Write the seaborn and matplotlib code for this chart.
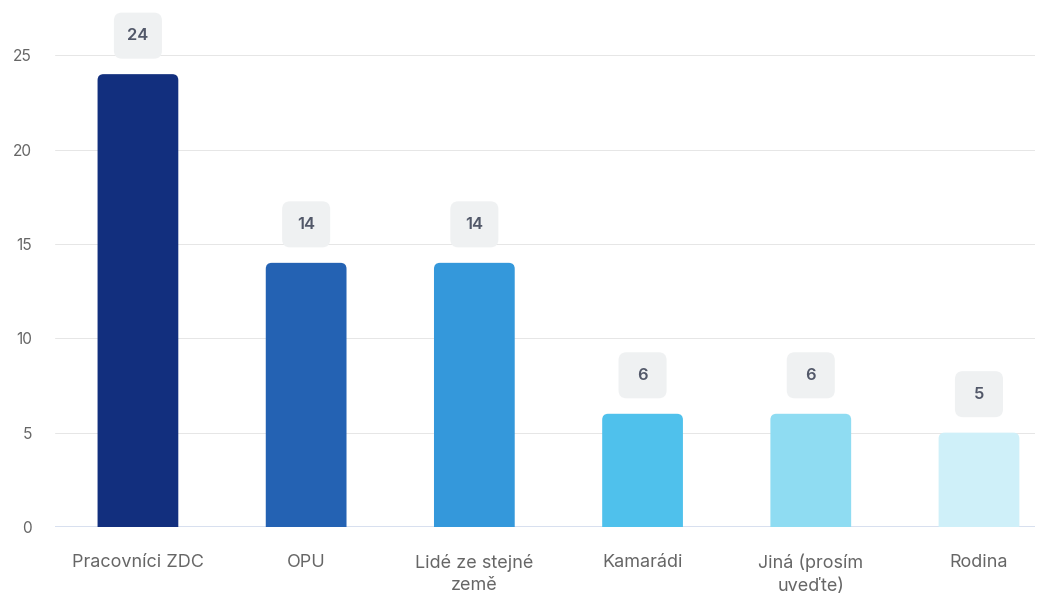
import matplotlib
matplotlib.use("Agg")
import matplotlib.pyplot as plt
import seaborn as sns
import pandas as pd
from matplotlib.patches import FancyBboxPatch
from matplotlib.offsetbox import DrawingArea, AnnotationBbox

categories = ["Pracovníci ZDC", "OPU", "Lidé ze stejné\nzemě", "Kamarádi", "Jiná (prosím\nuveďte)", "Rodina"]
values = [24, 14, 14, 6, 6, 5]
colors = ["#122f7e", "#2462b3", "#3498db", "#4fc1ec", "#8fdcf2", "#cff0f9"]
yticks = [0, 5, 10, 15, 20, 25]

sns.set_theme(style="white")
plt.rcParams["font.family"] = ["Inter", "DejaVu Sans"]

DPI = 72
fig = plt.figure(figsize=(1051 / DPI, 596 / DPI), dpi=DPI)
ax = fig.add_axes([55 / 1051, 1 - 527 / 596, (1035 - 55) / 1051, (527 - 10) / 596])

df = pd.DataFrame({"cat": categories, "val": values})
sns.barplot(data=df, x="cat", y="val", hue="cat", palette=colors, legend=False,
            width=0.48, ax=ax, saturation=1)

ax.set_xlim(-0.493, 5.333)
ax.set_ylim(0, 27.4)
ax.set_yticks(yticks)
ax.grid(axis="y", color="#e6e6e6", linewidth=1)
ax.set_axisbelow(True)
for s in ax.spines.values():
    s.set_visible(False)
ax.axhline(0, color="#ccd6eb", linewidth=1.5, zorder=1)
ax.set_xlabel("")
ax.set_ylabel("")
ax.tick_params(axis="x", colors="#666666", labelsize=18, length=0, pad=27)
ax.tick_params(axis="y", colors="#666666", labelsize=15.5, length=0, pad=23)
for t in ax.get_xticklabels():
    t.set_linespacing(1.4)

# rounded top corners
px_x = 980 / (5.333 + 0.493)
px_y = 517 / 27.4
r = 6
for patch in list(ax.patches):
    x, y = patch.get_x(), patch.get_y()
    w, h = patch.get_width(), patch.get_height()
    fc = patch.get_facecolor()
    patch.remove()
    rs = r / px_x
    fb = FancyBboxPatch((x, y - 1), w, h + 1,
                        boxstyle=f"round,pad=0,rounding_size={rs}",
                        mutation_aspect=(r / px_y) / rs,
                        facecolor=fc, edgecolor="none", zorder=2)
    ax.add_patch(fb)

# data labels
for i, v in enumerate(values):
    da = DrawingArea(48, 46, 0, 0)
    da.add_artist(FancyBboxPatch((0, 0), 48, 46, boxstyle="round,pad=0,rounding_size=8",
                                 facecolor="#eff1f2", edgecolor="none"))
    ab = AnnotationBbox(da, (i, v), xybox=(0, 38.5), boxcoords="offset points",
                        frameon=False, box_alignment=(0.5, 0.5), pad=0, zorder=3)
    ax.add_artist(ab)
    ax.annotate(str(v), (i, v), xytext=(0, 38.5), textcoords="offset points",
                ha="center", va="center", fontsize=16.5, fontweight="semibold",
                color="#525869", zorder=4)

fig.savefig("out.png", dpi=DPI)
